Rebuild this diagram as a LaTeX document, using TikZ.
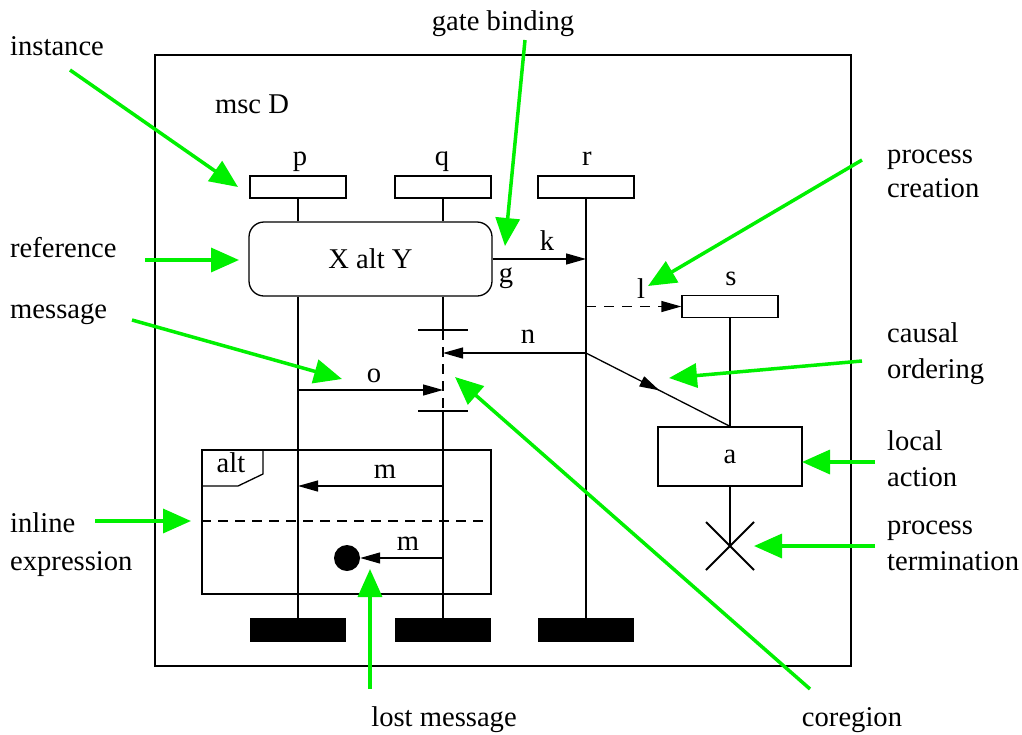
\documentclass[tikz,border=0pt]{standalone}
\usepackage{fontspec}
\setmainfont{Liberation Serif}
\usetikzlibrary{arrows.meta,calc}
\definecolor{gr}{RGB}{0,240,0}
\begin{document}
\begin{tikzpicture}[x=1pt,y=-1pt,
  every node/.style={font=\rmfamily\fontsize{28.6}{34}\selectfont, inner sep=0pt},
  ln/.style={line width=1.3pt},
  msg/.style={ln,-{Triangle[length=20pt,width=11pt]}},
  hl/.style={line width=3.5pt, draw=gr, -{Triangle[length=28pt,width=24pt]}},
  headbox/.style={draw, line width=1.3pt, minimum width=96pt, minimum height=22pt},
  endbar/.style={fill=black, minimum width=96pt, minimum height=24pt},
  lab/.style={anchor=base},
  llab/.style={anchor=base west},
  dsh/.style={ln, dash pattern=on 10pt off 7pt}]
\useasboundingbox (0,0) rectangle (1022,734);
% frame
\draw[ln] (155,55) rectangle (851,666);
\node[lab] (title) at (252,113) {msc D};
% instance heads
\node[headbox] (p) at (298,187) {};
\node[headbox] (q) at (443,187) {};
\node[headbox] (r) at (586,187) {};
\node[lab] (pl) at (300,165) {p};
\node[lab] (ql) at (442,165) {q};
\node[lab] (rl) at (587,165) {r};
% reference
\node[draw, ln, rounded corners=15pt, minimum width=243pt, minimum height=74pt] (ref) at (370.5,259) {X alt Y};
% end bars
\node[endbar] (pe) at (298,630) {};
\node[endbar] (qe) at (443,630) {};
\node[endbar] (re) at (586,630) {};
% lifelines
\draw[ln] (p.south) -- (p.south |- ref.north);
\draw[ln] (q.south) -- (q.south |- ref.north);
\draw[ln] (p.south |- ref.south) -- (pe.north);
\draw[ln] (r.south) -- (re.north);
% q lifeline with coregion
\coordinate (ct) at (443,330);
\coordinate (cb) at (443,411);
\draw[ln] (q.south |- ref.south) -- (ct);
\draw[dsh] (ct) -- (cb);
\draw[ln] (cb) -- (qe.north);
\draw[ln] ($(ct)+(-25,0)$) -- ($(ct)+(25,0)$);
\draw[ln] ($(cb)+(-25,0)$) -- ($(cb)+(25,0)$);
% message k with gate g
\draw[msg] (ref.east) -- (ref.east -| r.south);
\node[lab] (kl) at (547,250) {k};
\node[lab] (gl) at (506,282) {g};
% process s and creation l
\node[headbox] (s) at (730,306.5) {};
\node[lab] (sl) at (731,285) {s};
\coordinate (rcr) at (r.south |- s.west);
\draw[msg, dash pattern=on 10pt off 8pt] (rcr) -- (s.west);
\node[lab] (ll) at (641,298) {l};
% action a
\node[draw, ln, minimum width=144pt, minimum height=59pt] (a) at (730,456.5) {a};
\draw[ln] (s.south) -- (a.north);
% termination
\coordinate (x) at (730,546);
\draw[ln] (a.south) -- (x);
\draw[line width=2pt] ($(x)+(-24,-24)$) -- ($(x)+(24,24)$);
\draw[line width=2pt] ($(x)+(-24,24)$) -- ($(x)+(24,-24)$);
% message n and causal ordering
\coordinate (rn) at (r.south |- 0,353);
\coordinate (qn) at (q.south |- 0,353);
\draw[msg] (rn) -- (qn);
\node[lab] (nl) at (528,343) {n};
\draw[msg] (rn) -- ($(rn)!0.51!(a.north)$);
\draw[ln] ($(rn)!0.45!(a.north)$) -- (a.north);
% message o
\coordinate (po) at (p.south |- 0,390);
\coordinate (qo) at (q.south |- 0,390);
\draw[msg] (po) -- (qo);
\node[lab] (ol) at (374,382) {o};
% inline expression
\node[draw, ln, minimum width=289pt, minimum height=144pt] (alt) at (346.5,522) {};
\draw[ln] (202,486) -- (238,486) -- (263,474) -- (263,450);
\node[lab] (altl) at (231,472) {alt};
\draw[dsh] (alt.west |- 0,521) -- (alt.east |- 0,521);
% message m
\coordinate (qm) at (q.south |- 0,486);
\coordinate (pm) at (p.south |- 0,486);
\draw[msg] (qm) -- (pm);
\node[lab] (ml) at (385,478) {m};
% lost message
\node[circle, fill, minimum size=26pt] (lost) at (347,558) {};
\coordinate (qlm) at (q.south |- lost.east);
\draw[msg] (qlm) -- (lost.east);
\node[lab] (ml2) at (408,550) {m};
% annotation labels
\node[llab] (t1) at (10,55) {instance};
\node[lab] (t2) at (503,30) {gate binding};
\node[llab] (t3) at (10,257) {reference};
\node[llab] (t4) at (10,318) {message};
\node[llab] (t5) at (10,532) {inline};
\node[llab] (t5b) at (10,570) {expression};
\node[lab] (t6) at (444,726) {lost message};
\node[lab] (t7) at (852,726) {coregion};
\node[llab] (t8) at (887,163) {process};
\node[llab] (t8b) at (887,197) {creation};
\node[llab] (t9) at (887,342) {causal};
\node[llab] (t9b) at (887,378) {ordering};
\node[llab] (t10) at (887,450) {local};
\node[llab] (t10b) at (887,486) {action};
\node[llab] (t11) at (887,534) {process};
\node[llab] (t11b) at (887,570) {termination};
% green pointers
\coordinate (g1s) at (70,70);   \coordinate (g1e) at (238,187);
\coordinate (g2s) at (525,40);  \coordinate (g2e) at (505,246);
\coordinate (g3s) at (145,260); \coordinate (g3e) at (239,260);
\coordinate (g4s) at (132,320); \coordinate (g4e) at (342,379);
\coordinate (g5s) at (95,521);  \coordinate (g5e) at (191,521);
\coordinate (g6s) at (370,689); \coordinate (g6e) at (370,569);
\coordinate (g7s) at (810,689); \coordinate (g7e) at (455,377);
\coordinate (g8s) at (862,160); \coordinate (g8e) at (648,286);
\coordinate (g9s) at (862,361); \coordinate (g9e) at (669,378);
\coordinate (g10s) at (875,462); \coordinate (g10e) at (802,462);
\coordinate (g11s) at (875,546); \coordinate (g11e) at (754,546);
\foreach \i in {1,...,11} {\draw[hl] (g\i s) -- (g\i e);}
\end{tikzpicture}
\end{document}
